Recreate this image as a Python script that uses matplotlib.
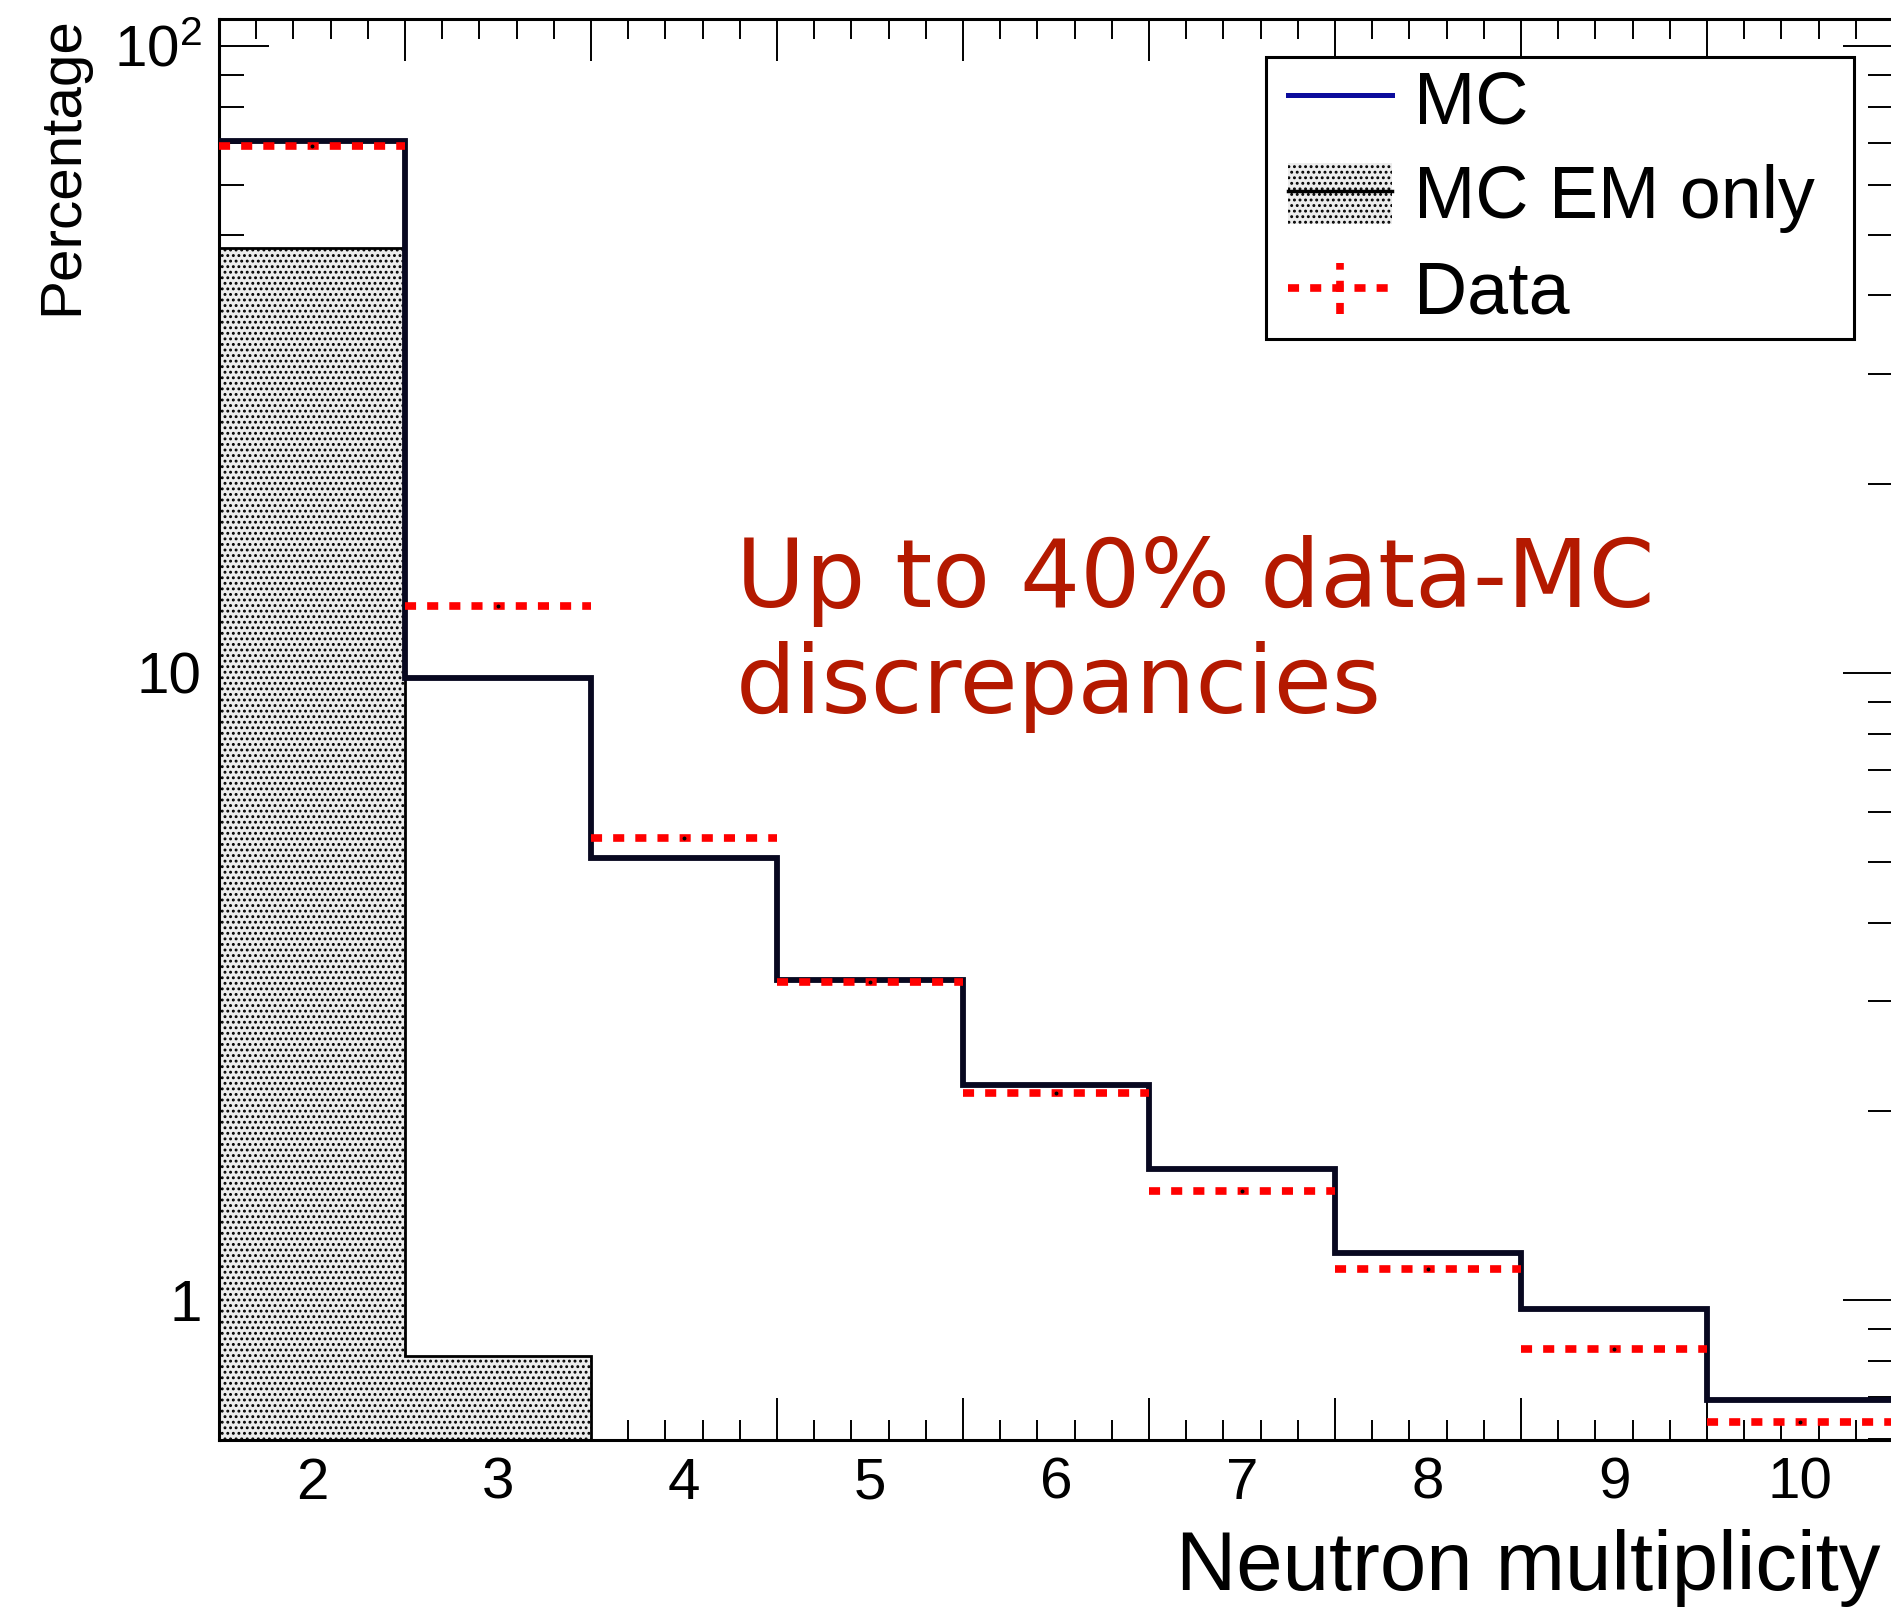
import numpy as np
import matplotlib
matplotlib.use("Agg")
import matplotlib.pyplot as plt
from matplotlib.lines import Line2D
from matplotlib.patches import Patch
from matplotlib.path import Path
from matplotlib.legend_handler import HandlerBase, HandlerTuple
from matplotlib.ticker import FixedLocator, NullFormatter

plt.rcParams['font.family'] = ['Liberation Sans', 'DejaVu Sans']
plt.rcParams['mathtext.fontset'] = 'custom'
plt.rcParams['mathtext.rm'] = 'Liberation Sans'
plt.rcParams['hatch.linewidth'] = 1.3

# neutron multiplicity histogram (percent per bin)
multiplicity = np.arange(2, 11)
mc = [70.5, 9.8, 5.07, 3.24, 2.20, 1.62, 1.19, 0.967, 0.694]
mc_em_only = [47.6, 0.814]
data = [69.2, 12.8, 5.46, 3.22, 2.14, 1.49, 1.12, 0.836, 0.639]

y_ticks = [1, 10, 100]
y_tick_labels = ['1', '10', r'$\mathregular{10^{2}}$']

RED = '#ff0000'
DATA_LW = 5.5
DATA_DASH = (0, (1.45, 1.45))
FILL = '#ececec'


class DataHandler(HandlerBase):
    """Legend entry for the data: dotted horizontal bar plus a dotted vertical error bar."""
    def create_artists(self, legend, orig_handle, xdescent, ydescent,
                       width, height, fontsize, trans):
        x0, x1 = -xdescent, width - xdescent
        xc = 0.5 * (x0 + x1)
        yc = 0.5 * height - ydescent
        style = dict(color=RED, lw=DATA_LW, ls=DATA_DASH,
                     dash_capstyle='butt', transform=trans)
        horiz = Line2D([x0, x1], [yc, yc], **style)
        vert = Line2D([xc, xc], [yc - 0.42 * height, yc + 0.42 * height], **style)
        return [horiz, vert]


def wide_box(x0, y0, width, height, mutation_size):
    # legend frame with extra horizontal room only
    dx = 12
    return Path([(x0 - dx, y0), (x0 + width + dx, y0),
                 (x0 + width + dx, y0 + height), (x0 - dx, y0 + height),
                 (x0 - dx, y0)], closed=True)


edges = np.append(multiplicity - 0.5, multiplicity[-1] + 0.5)

fig = plt.figure(figsize=(18.91, 16.09), dpi=100)
ax = fig.add_axes([0.1158, 0.1050, 0.8853, 0.8832])

ax.set_yscale('log')
ax.set_xlim(1.5, 10.5)
ax.set_ylim(0.598, 110.4)

# EM-only contribution, dotted fill
ax.stairs(mc_em_only, edges[:len(mc_em_only) + 1], baseline=1e-3, fill=True,
          facecolor=FILL, edgecolor='black', hatch='...', linewidth=2.0,
          zorder=2)

# full MC
ax.stairs(mc, edges, baseline=None, color='#080820', linewidth=4.2, zorder=3)

# data as horizontal error bars across each bin
err = ax.errorbar(multiplicity, data, xerr=0.5, fmt='o', ms=1.8,
                  mfc='black', mec='black', ecolor=RED, elinewidth=DATA_LW,
                  capsize=0, zorder=4)
for coll in err[2]:
    coll.set_linestyle(DATA_DASH)
    coll.set_capstyle('butt')

# ROOT-like frame: ticks inside on all sides
for sp in ax.spines.values():
    sp.set_linewidth(2.2)

ax.xaxis.set_major_locator(FixedLocator(edges))
ax.xaxis.set_major_formatter(NullFormatter())
ax.xaxis.set_minor_locator(FixedLocator(np.arange(1.5, 10.51, 0.2)))
ax.tick_params(axis='x', which='major', direction='in', length=30, width=1.4,
               top=True, bottom=True)
ax.tick_params(axis='x', which='minor', direction='in', length=14.5, width=1.4,
               top=True, bottom=True)

ax.set_yticks(y_ticks, y_tick_labels)
ax.yaxis.set_minor_formatter(NullFormatter())
ax.tick_params(axis='y', which='major', direction='in', length=36, width=1.4,
               left=True, right=True, labelsize=42, pad=12.5)
ax.tick_params(axis='y', which='minor', direction='in', length=18, width=1.4,
               left=True, right=True)

# bin-centre labels
sec = ax.secondary_xaxis('bottom')
sec.set_xticks(multiplicity, [str(m) for m in multiplicity])
sec.tick_params(length=0, labelsize=42, pad=12)
sec.spines['bottom'].set_visible(False)

fig.text(77 / 1891, 1 - 16 / 1609, 'Percentage', rotation=90,
         rotation_mode='anchor', ha='right', va='baseline', fontsize=42)
fig.text(1881 / 1891, 1 - 1590 / 1609, 'Neutron multiplicity',
         ha='right', va='baseline', fontsize=60)

fig.text(736 / 1891, 1 - 713 / 1609, 'Up to 40% data-MC\ndiscrepancies',
         ha='left', va='baseline', fontsize=68, color='#b41900',
         family='DejaVu Sans', linespacing=1.2)

mc_handle = Line2D([], [], color='#0c0c9c', lw=3.6)
em_handle = (Patch(facecolor=FILL, edgecolor='black', linewidth=0, hatch='...'),
             Line2D([], [], color='black', lw=2.5))
data_handle = Line2D([], [], color=RED)

leg = ax.legend([mc_handle, em_handle, data_handle],
                ['MC', 'MC EM only', 'Data'],
                handler_map={tuple: HandlerTuple(ndivide=1), data_handle: DataHandler()},
                loc='upper left',
                bbox_to_anchor=(1278 / 1891, 1 - 57 / 1609, 564 / 1891, 0),
                bbox_transform=fig.transFigure, mode='expand', fontsize=53,
                frameon=True, fancybox=False, framealpha=1, edgecolor='black',
                borderpad=0.14, labelspacing=0.33, handlelength=1.41,
                handleheight=0.9, handletextpad=0.3, borderaxespad=0)
leg.get_frame().set_boxstyle(wide_box)
leg.get_frame().set_linewidth(2.2)
leg.set_zorder(5)

fig.savefig('out.png', dpi=100)
